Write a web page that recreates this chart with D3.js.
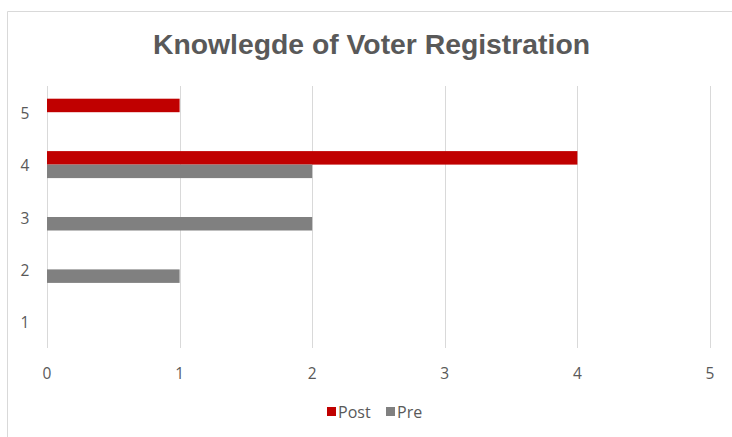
<!DOCTYPE html>
<html><head><meta charset="utf-8">
<script src="https://cdn.jsdelivr.net/npm/d3@7"></script>
<style>body{margin:0;background:#fff;}svg{display:block;}</style>
</head><body>
<svg id="c" width="732" height="437"></svg>
<script>
const categories = ["1","2","3","4","5"];
const postValues = [0,0,0,4,1];
const preValues = [0,1,2,2,0];
const seriesNames = ["Post","Pre"];
const seriesColors = ["#C00000","#808080"];
const xTicks = [0,1,2,3,4,5];

const svg = d3.select("#c");
// chart frame
svg.append("line").attr("x1",7.5).attr("x2",732).attr("y1",11.5).attr("y2",11.5).attr("stroke","#d9d9d9");
svg.append("line").attr("x1",7.5).attr("x2",7.5).attr("y1",11.5).attr("y2",437).attr("stroke","#d9d9d9");

svg.append("text").attr("x",371.5).attr("y",54).attr("text-anchor","middle")
  .attr("font-family","'Liberation Sans', Arial, sans-serif").attr("font-weight","bold")
  .attr("font-size",28).attr("fill","#595959").attr("textLength",437).attr("lengthAdjust","spacingAndGlyphs")
  .text("Knowlegde of Voter Registration");

const x = d3.scaleLinear().domain([0,5]).range([47,710]);
const y = d3.scaleBand().domain(categories.slice().reverse()).range([86,348]).paddingInner(0).paddingOuter(0);
const barH = 13.5;
const tickFont = "'Open Sans', sans-serif";

// gridlines
svg.append("g").selectAll("line").data(xTicks).join("line")
  .attr("x1",d=>Math.round(x(d))+0.5).attr("x2",d=>Math.round(x(d))+0.5)
  .attr("y1",86).attr("y2",348).attr("stroke","#d9d9d9").attr("stroke-width",1);

// x tick labels
svg.append("g").selectAll("text").data(xTicks).join("text")
  .attr("x",d=>x(d)).attr("y",378.5).attr("text-anchor","middle")
  .attr("font-family",tickFont).attr("font-size",15.5).attr("fill","#595959").text(d=>d);

// y labels
svg.append("g").selectAll("text").data(categories).join("text")
  .attr("x",25).attr("y",d=>y(d)+y.bandwidth()/2+6.5).attr("text-anchor","middle")
  .attr("font-family",tickFont).attr("font-size",15.5).attr("fill","#595959").text(d=>d);

const series = [postValues, preValues];
series.forEach((vals,si)=>{
  svg.append("g").selectAll("rect").data(categories.map((c,i)=>({c,v:vals[i]})).filter(d=>d.v>0)).join("rect")
    .attr("x",x(0)).attr("width",d=>x(d.v)-x(0))
    .attr("y",d=>y(d.c)+y.bandwidth()/2 - barH + si*barH).attr("height",barH)
    .attr("fill",seriesColors[si]);
});

// legend
const leg = [{n:seriesNames[0],c:seriesColors[0],x:327},{n:seriesNames[1],c:seriesColors[1],x:386}];
leg.forEach(l=>{
  svg.append("rect").attr("x",l.x).attr("y",407).attr("width",9).attr("height",9).attr("fill",l.c);
  svg.append("text").attr("x",l.x+11).attr("y",418).attr("font-family",tickFont)
    .attr("font-size",16).attr("fill","#595959").text(l.n);
});
</script>
</body></html>
